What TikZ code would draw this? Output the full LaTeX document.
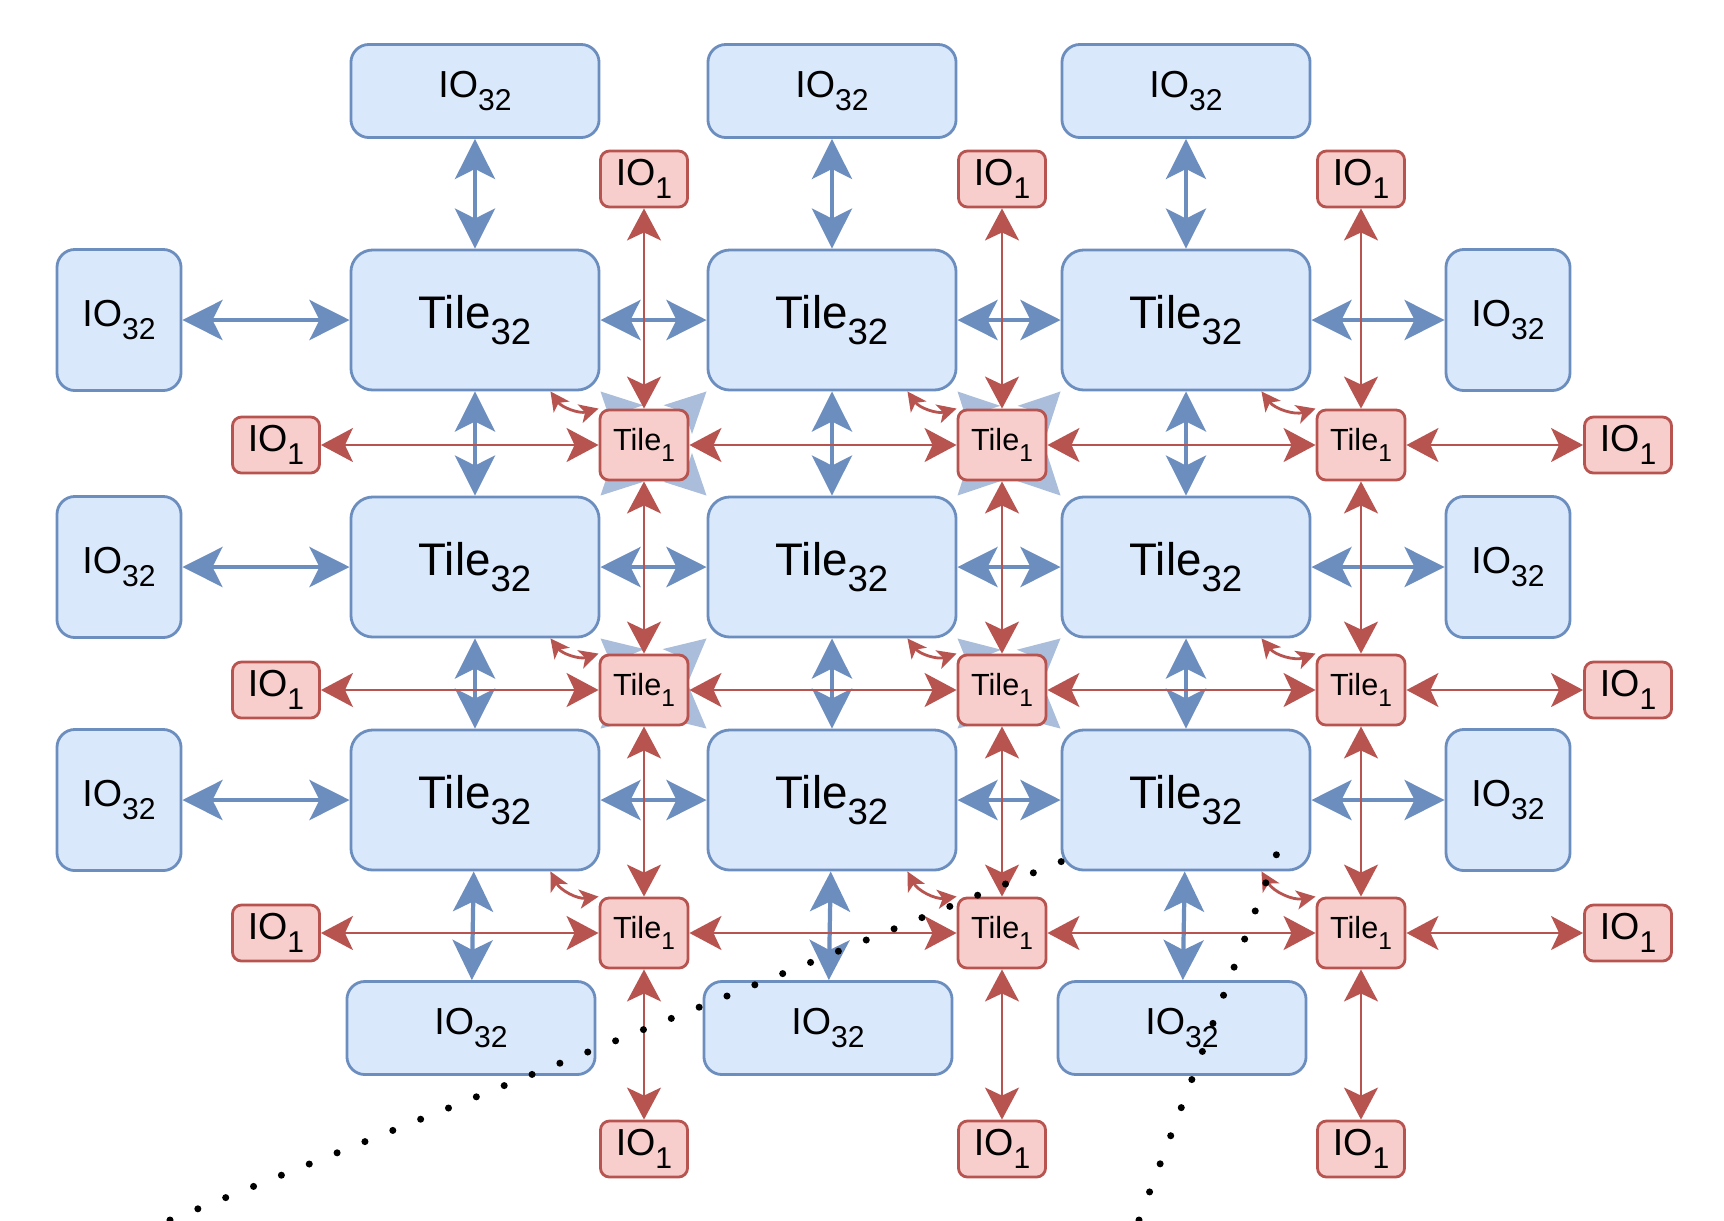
\documentclass[tikz,border=0pt]{standalone}
\usepackage{graphicx}
\usepackage{fontspec}
\setmainfont{Liberation Sans}
\usetikzlibrary{arrows.meta,calc}
\definecolor{bluefill}{HTML}{DAE8FC}
\definecolor{blueline}{HTML}{6C8EBF}
\definecolor{redfill}{HTML}{F8CECC}
\definecolor{redline}{HTML}{B85450}
\newcommand{\lblsub}[2]{#1\raisebox{-0.35em}{\scalebox{0.8}{#2}}}
\tikzset{
	box/.style = {align=center, inner sep=0pt, text centered, line width=0.8pt},
	tile_l/.style = {box, fill=bluefill, draw=blueline, minimum width=2.48cm,
		minimum height=1.40cm, rounded corners=0.22cm, font=\fontsize{13}{15}\selectfont},% tuile 32 bits
	io_l/.style = {box, fill=bluefill, draw=blueline, minimum width=2.48cm,
		minimum height=0.93cm, rounded corners=0.18cm, font=\fontsize{10.7}{13}\selectfont},% E/S 32 bits
	io_lv/.style = {io_l, minimum width=1.24cm, minimum height=1.41cm},% E/S 32 bits, cote
	tile_s/.style = {box, fill=redfill, draw=redline, minimum width=0.88cm,
		minimum height=0.70cm, rounded corners=0.09cm, font=\fontsize{8.7}{10}\selectfont},% tuile 1 bit
	io_s/.style = {tile_s, minimum width=0.87cm, minimum height=0.56cm,
		font=\fontsize{10.7}{13}\selectfont},% E/S 1 bit
	bus_l/.style = {>={Stealth[length=0.4cm,width=0.4cm,inset=0.1cm]}, <->,
		draw=blueline, line width=1.2pt},
	bus_f/.style = {bus_l, draw=blueline!58!white},% diagonale, cachee
	bus_s/.style = {>={Stealth[length=0.32cm,width=0.34cm,inset=0.08cm]}, <->,
		draw=redline, line width=0.6pt},
	link_c/.style = {>={Stealth[length=0.19cm,width=0.19cm,inset=0.05cm]}, <->,
		draw=redline, line width=0.8pt},
	zoomln/.style = {line width=2pt, line cap=round, dash pattern=on 0pt off 0.3cm}
}
\begin{document}
\begin{tikzpicture}[x=0.01cm, y=-0.01cm]
\useasboundingbox (0,0) rectangle (1724,1220);
% tuiles 32 bits et E/S
\foreach \x [count=\c] in {475,832,1186} {
	\node[io_l] (iot\c) at (\x,91) {\lblsub{IO}{32}};
	\node[io_l] (iob\c) at (\x-4,1028) {\lblsub{IO}{32}};
	\foreach \y [count=\r] in {320,567,800}
		\node[tile_l] (t\r\c) at (\x,\y) {\lblsub{Tile}{32}};
}
\foreach \y [count=\r] in {320,567,800} {
	\node[io_lv] (iol\r) at (119,\y) {\lblsub{IO}{32}};
	\node[io_lv] (ior\r) at (1508,\y) {\lblsub{IO}{32}};
}
% diagonales
\foreach \r/\n in {1/2,2/3}
	\foreach \c/\m in {1/2,2/3} {
		\draw[bus_f] (t\r\c.south east) -- (t\n\m.north west);
		\draw[bus_f] (t\r\m.south west) -- (t\n\c.north east);
	}
% tuiles 1 bit et E/S
\foreach \x [count=\c] in {644,1002,1361} {
	\node[io_s] (ist\c) at (\x,179) {\lblsub{IO}{1}};
	\node[io_s] (isb\c) at (\x,1149) {\lblsub{IO}{1}};
	\foreach \y [count=\r] in {445,690,933}
		\node[tile_s] (s\r\c) at (\x,\y) {\lblsub{Tile}{1}};
}
\foreach \y [count=\r] in {445,690,933} {
	\node[io_s] (isl\r) at (276,\y) {\lblsub{IO}{1}};
	\node[io_s] (isr\r) at (1628,\y) {\lblsub{IO}{1}};
}
% liens 32 bits
\foreach \c in {1,2,3} {
	\draw[bus_l] (iot\c) -- (t1\c);
	\draw[bus_l] (t1\c) -- (t2\c);
	\draw[bus_l] (t2\c) -- (t3\c);
	\draw[bus_l] (t3\c) -- (iob\c);
}
\foreach \r in {1,2,3} {
	\draw[bus_l] (iol\r) -- (t\r1);
	\draw[bus_l] (t\r1) -- (t\r2);
	\draw[bus_l] (t\r2) -- (t\r3);
	\draw[bus_l] (t\r3) -- (ior\r);
}
% liens 1 bit
\foreach \c in {1,2,3} {
	\draw[bus_s] (ist\c) -- (s1\c);
	\draw[bus_s] (s1\c) -- (s2\c);
	\draw[bus_s] (s2\c) -- (s3\c);
	\draw[bus_s] (s3\c) -- (isb\c);
}
\foreach \r in {1,2,3} {
	\draw[bus_s] (isl\r) -- (s\r1);
	\draw[bus_s] (s\r1) -- (s\r2);
	\draw[bus_s] (s\r2) -- (s\r3);
	\draw[bus_s] (s\r3) -- (isr\r);
	\foreach \c in {1,2,3}
		\draw[link_c] ([xshift=-0.5cm]t\r\c.south east) to[bend right=35] (s\r\c.north west);
}
% zoom
\coordinate (z1) at (170,1220);
\coordinate (z2) at (1139,1220);
\draw[zoomln] (z1) -- ($(t33.south west)+(6,-12)$);
\draw[zoomln] (z2) -- ($(t33.south east)+(-35,-17)$);
\end{tikzpicture}
\end{document}
